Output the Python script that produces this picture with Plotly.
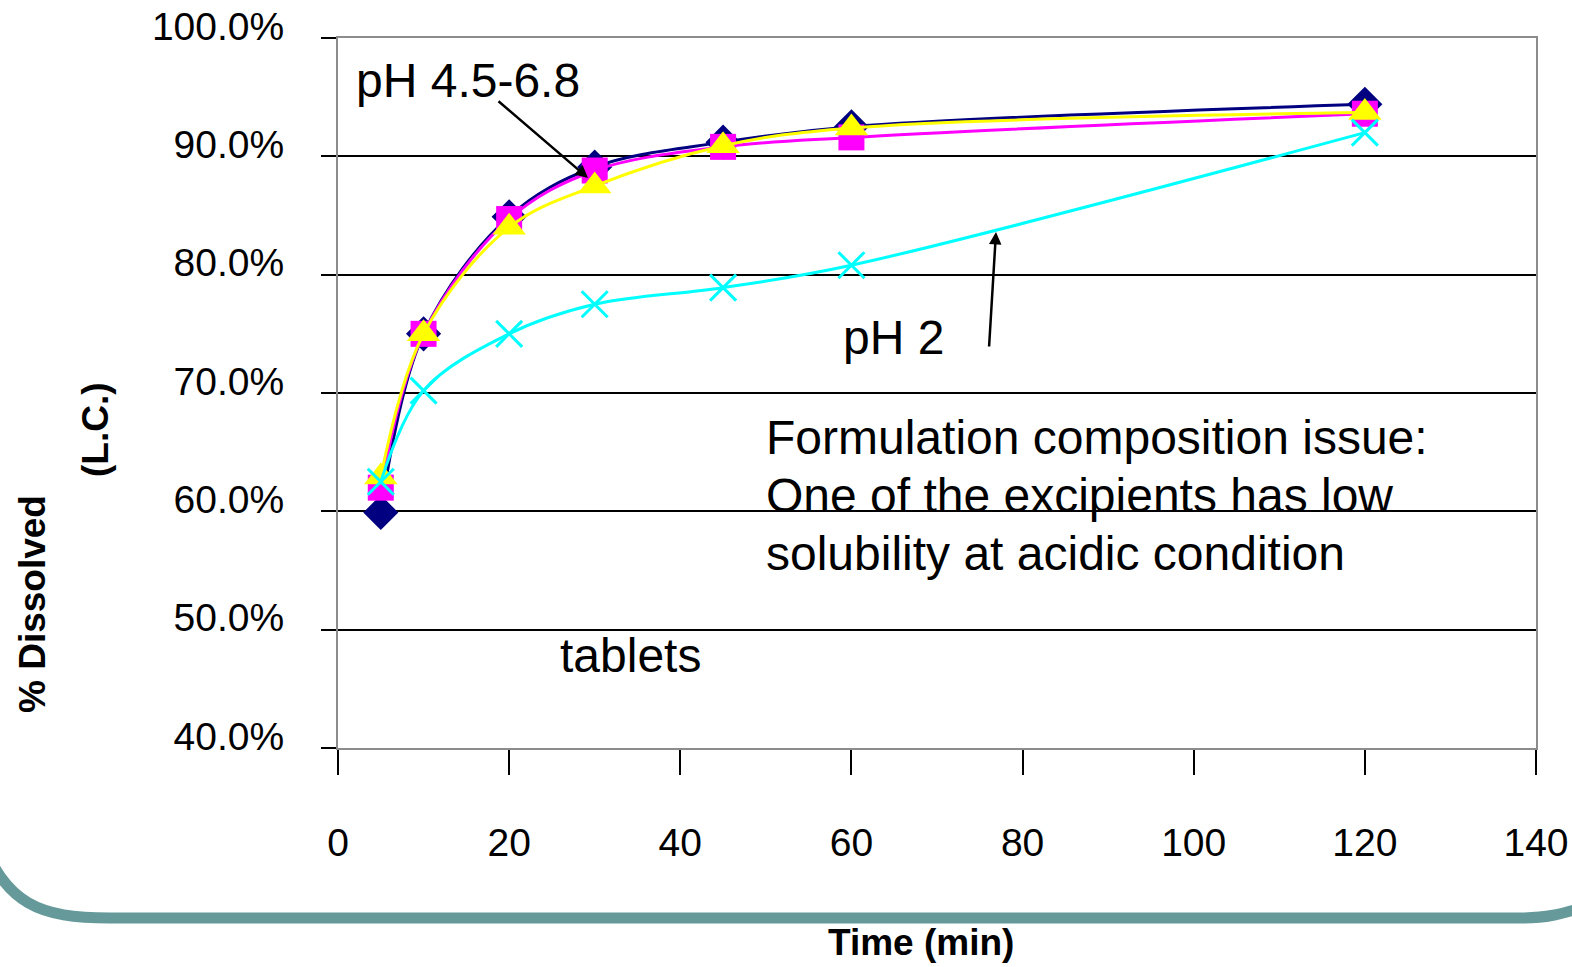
import plotly.graph_objects as go

# ---- data ----
time_min = [5, 10, 20, 30, 45, 60, 120]
series_navy = [59.9, 75.0, 84.9, 89.1, 91.2, 92.5, 94.4]
series_magenta = [62.0, 75.0, 84.7, 88.8, 90.8, 91.6, 93.6]
series_yellow = [62.9, 75.0, 84.0, 87.5, 90.9, 92.4, 93.7]
series_cyan = [62.5, 70.2, 75.0, 77.5, 78.9, 80.8, 92.0]

x_ticks = [0, 20, 40, 60, 80, 100, 120, 140]
y_ticks = [40, 50, 60, 70, 80, 90, 100]

W, H = 1572, 967
ML, MR, MT, MB = 338, 36, 38, 219
PW, PH = W - ML - MR, H - MT - MB

FONT = "Liberation Sans, Arial, sans-serif"


def px2paper(px, py):
    return (px - ML) / PW, (H - MB - py) / PH


def px2data(px, py):
    return (px - ML) / PW * 140, 40 + (H - MB - py) / PH * 60


fig = go.Figure()

styles = [
    (series_navy, "#000080", "diamond", dict(size=27, color="#000080")),
    (series_magenta, "#FF00FF", "square", dict(size=26, color="#FF00FF")),
    (series_yellow, "#FFFF00", "triangle-up", dict(size=29, color="#FFFF00")),
    (series_cyan, "#00FFFF", "x-thin", dict(size=26, color="#00FFFF",
                                           line=dict(width=3, color="#00FFFF"))),
]
for vals, col, sym, mk in styles:
    fig.add_trace(go.Scatter(
        x=time_min, y=vals, mode="lines+markers",
        line=dict(color=col, width=3, shape="spline", smoothing=1.0),
        marker=dict(symbol=sym, **mk),
        showlegend=False, hoverinfo="skip"))

fig.update_xaxes(
    range=[0, 140], tickvals=x_ticks, ticktext=[str(v) for v in x_ticks],
    showgrid=False, zeroline=False, automargin=False,
    showline=True, mirror=True, linecolor="#8c8c8c", linewidth=2,
    ticks="outside", ticklen=25, tickwidth=1.5, tickcolor="black",
    tickfont=dict(family=FONT, size=39, color="black"),
    ticklabelstandoff=34,
)
fig.update_yaxes(
    range=[40, 100], tickvals=y_ticks,
    ticktext=[f"{v:.1f}%" for v in y_ticks],
    showgrid=True, gridcolor="black", gridwidth=1.5, zeroline=False,
    automargin=False,
    showline=True, mirror=True, linecolor="#8c8c8c", linewidth=2,
    ticks="outside", ticklen=15, tickwidth=1.5, tickcolor="black",
    tickfont=dict(family=FONT, size=39, color="black"),
    ticklabelstandoff=29, ticklabelshift=-12,
)

ann_font = dict(family=FONT, size=48, color="black")
bold_font = dict(family=FONT, size=37, color="black")


def text_at(px, py, txt, anchor="center"):
    x, y = px2data(px, py)
    fig.add_annotation(x=x, y=y, text=txt, showarrow=False, font=ann_font,
                       xanchor=anchor, yanchor="middle")


# text labels inside the plot
text_at(468, 80, "pH 4.5-6.8")
text_at(893, 337, "pH 2")
text_at(764, 437, "Formulation composition issue:", "left")
text_at(764, 495, "One of the excipients has low", "left")
text_at(764, 553, "solubility at acidic condition", "left")
text_at(630, 655, "tablets")

# arrows
hx, hy = px2data(588, 178)
fig.add_annotation(x=hx, y=hy, ax=-91, ay=-78, text="", showarrow=True,
                   arrowhead=2, arrowsize=1, arrowwidth=2.5, arrowcolor="black")
hx, hy = px2data(996, 232)
fig.add_annotation(x=hx, y=hy, ax=-7, ay=116, text="", showarrow=True,
                   arrowhead=2, arrowsize=1, arrowwidth=2.5, arrowcolor="black")

# axis titles
px_, py_ = px2paper(32, 604)
fig.add_annotation(xref="paper", yref="paper", x=px_, y=py_, text="<b>% Dissolved</b>",
                   textangle=-90, showarrow=False, font=bold_font,
                   xanchor="center", yanchor="middle")
px_, py_ = px2paper(96, 430)
fig.add_annotation(xref="paper", yref="paper", x=px_, y=py_, text="<b>(L.C.)</b>",
                   textangle=-90, showarrow=False, font=bold_font,
                   xanchor="center", yanchor="middle")
px_, py_ = px2paper(921, 942)
fig.add_annotation(xref="paper", yref="paper", x=px_, y=py_, text="<b>Time (min)</b>",
                   showarrow=False, font=bold_font, xanchor="center", yanchor="middle")

# slide decoration (teal rounded bracket)
pts = [(-20, 835), (5, 905), (40, 918), (110, 918), (1520, 918),
       (1545, 918), (1560, 915), (1590, 905)]
pp = [px2paper(a, b) for a, b in pts]
path = (f"M {pp[0][0]},{pp[0][1]} C {pp[1][0]},{pp[1][1]} {pp[2][0]},{pp[2][1]} {pp[3][0]},{pp[3][1]} "
        f"L {pp[4][0]},{pp[4][1]} C {pp[5][0]},{pp[5][1]} {pp[6][0]},{pp[6][1]} {pp[7][0]},{pp[7][1]}")
fig.add_shape(type="path", xref="paper", yref="paper", path=path,
              line=dict(color="#669999", width=11), layer="below")

fig.update_layout(
    width=W, height=H,
    margin=dict(l=ML, r=MR, t=MT, b=MB),
    paper_bgcolor="white", plot_bgcolor="white",
    showlegend=False,
)

fig.write_html("out.html")
